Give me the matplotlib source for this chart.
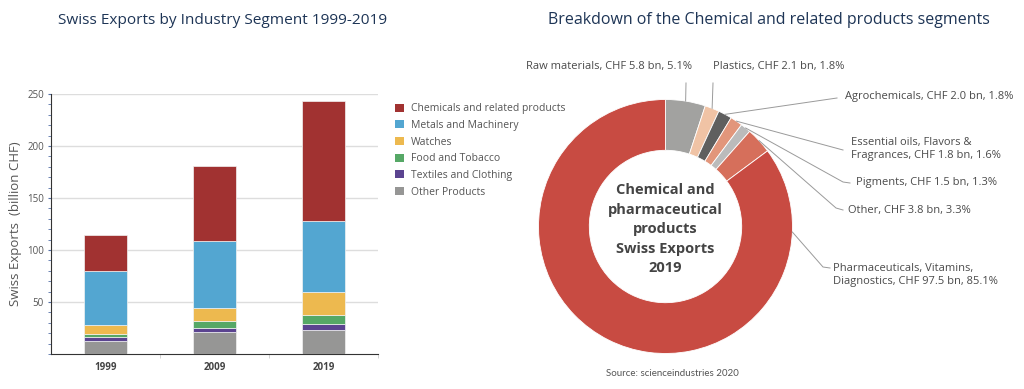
import matplotlib
matplotlib.use("Agg")
import matplotlib.pyplot as plt
import numpy as np
from matplotlib.patches import Patch

# ---------------- data ----------------
years = ["1999", "2009", "2019"]
segments = ["Other Products", "Textiles and Clothing", "Food and Tobacco",
            "Watches", "Metals and Machinery", "Chemicals and related products"]
other_products = [12.5, 20.8, 23.4]
textiles = [3.8, 3.9, 5.1]
food = [2.9, 7.0, 9.0]
watches = [8.7, 12.9, 21.8]
metals = [52.2, 63.7, 68.3]
chemicals = [34.3, 72.5, 115.3]
bar_series = [other_products, textiles, food, watches, metals, chemicals]
bar_colors = ["#969695", "#5B4490", "#56A866", "#EDB94F", "#53A6D1", "#A13231"]

chem_names = ["Raw materials", "Plastics", "Agrochemicals",
              "Essential oils, Flavors &\nFragrances", "Pigments", "Other",
              "Pharmaceuticals, Vitamins,\nDiagnostics"]
chem_values = [5.8, 2.1, 2.0, 1.8, 1.5, 3.8, 97.5]
chem_pcts = ["5.1%", "1.8%", "1.8%", "1.6%", "1.3%", "3.3%", "85.1%"]
chem_colors = ["#A2A2A0", "#F0C3A5", "#5F5F5F", "#E2967B", "#BBBBBB", "#D66F5B", "#C84B42"]

W, H = 1024, 389
fig = plt.figure(figsize=(W / 100, H / 100), dpi=100)
plt.rcParams['font.family'] = ['Open Sans', 'DejaVu Sans']

def fx(x):
    return x / W

def fy(y):
    return 1 - y / H

TXT = "#4A4A4A"
NAVY = "#1E3556"

# ---------------- bar chart ----------------
ax = fig.add_axes([fx(51), fy(354), fx(378) - fx(51), fy(94) - fy(354)])
x = np.arange(len(years))
bottom = np.zeros(len(years))
for vals, col, name in zip(bar_series, bar_colors, segments):
    ax.bar(x, vals, width=0.4, bottom=bottom, color=col, edgecolor="#f2f2f2",
           linewidth=0.5, label=name, zorder=3)
    bottom += np.array(vals)

ax.set_xlim(-0.5, 2.5)
ax.set_ylim(0, 250)
ax.set_yticks([50, 100, 150, 200, 250])
ax.set_yticks(np.arange(0, 251, 10), minor=True)
ax.yaxis.grid(True, color="#DDDDDD", linewidth=1, zorder=0)
ax.set_axisbelow(True)
ax.tick_params(axis='y', which='both', direction='out', length=2, color="#5570A8",
               labelsize=7, labelcolor="#555555", pad=3)
ax.set_xticks(x)
ax.set_xticklabels(years, fontsize=7, fontweight='bold', color="#444444")
ax.tick_params(axis='x', which='major', length=0, pad=6)
ax.set_xticks([0.5, 1.5, 2.5], minor=True)
ax.tick_params(axis='x', which='minor', length=3, color="#CCCCCC")
for s in ["top", "right"]:
    ax.spines[s].set_visible(False)
ax.spines["left"].set_color("#333333")
ax.spines["bottom"].set_color("#333333")
ax.set_ylabel("Swiss Exports  (billion CHF)", fontsize=9.5, color="#555555", labelpad=4)

handles = [Patch(facecolor=c, edgecolor='none') for c in bar_colors][::-1]
labels = segments[::-1]
fig.legend(handles, labels, loc='upper left', bbox_to_anchor=(fx(391), fy(99)),
           frameon=False, fontsize=7.5, labelcolor="#555555", handlelength=0.8,
           handleheight=0.8, handletextpad=0.75, labelspacing=0.55, borderaxespad=0)

fig.text(fx(58), fy(20), "Swiss Exports by Industry Segment 1999-2019", fontsize=11.1,
         color=NAVY, va='center', ha='left')

# ---------------- donut ----------------
cx, cy, R = 665.5, 226.5, 127
pax = fig.add_axes([fx(cx - R), fy(cy + R), fx(2 * R), fy(cy - R) - fy(cy + R)])
wedges, _ = pax.pie(chem_values, colors=chem_colors, startangle=90, counterclock=False,
                    radius=1, wedgeprops=dict(width=0.4, edgecolor='white', linewidth=0.6))
pax.set_xlim(-1, 1)
pax.set_ylim(-1, 1)
pax.set_aspect('equal')
pax.axis('off')

pax.text(0, -0.02, "Chemical and\npharmaceutical\nproducts\nSwiss Exports\n2019", ha='center',
         va='center', fontsize=10.5, fontweight='bold', color="#444444", linespacing=1.5)

fig.text(fx(548), fy(20), "Breakdown of the Chemical and related products segments",
         fontsize=11.5, color=NAVY, va='center', ha='left')

# label layout: (text x, text y, ha, line path in pixels after anchor)
label_layout = [
    (692, 66, 'right', [(686, 83)]),
    (713, 66, 'left', [(713, 83)]),
    (845, 97, 'left', [(837, 98)]),
    (851, 149, 'left', [(843, 150)]),
    (856, 183, 'left', [(843, 182), (850, 183)]),
    (848, 211, 'left', [(836, 208), (843, 210)]),
    (833, 275, 'left', [(823, 267), (830, 268)]),
]

LINE = "#9A9A9A"
for i, (w, name, val, pct) in enumerate(zip(wedges, chem_names, chem_values, chem_pcts)):
    tx, ty, ha, path = label_layout[i]
    if i == len(wedges) - 1:
        ang = np.deg2rad(-2.5)
    else:
        ang = np.deg2rad((w.theta1 + w.theta2) / 2)
    ax_x, ax_y = np.cos(ang), np.sin(ang)
    disp = pax.transData.transform((ax_x, ax_y))
    px0 = disp[0]
    py0 = H - disp[1]
    pts = [(px0, py0)] + path
    xs = [fx(p[0]) for p in pts]
    ys = [fy(p[1]) for p in pts]
    fig.add_artist(plt.Line2D(xs, ys, transform=fig.transFigure, color=LINE, linewidth=0.7))
    if "\n" in name:
        a, b = name.split("\n")
        txt = f"{a}\n{b}, CHF {val} bn, {pct}"
    else:
        txt = f"{name}, CHF {val} bn, {pct}"
    fig.text(fx(tx), fy(ty), txt, ha=ha, va='center', fontsize=8, color=TXT, linespacing=1.3)

fig.text(fx(672), fy(373), "Source: scienceindustries 2020", ha='center', va='center',
         fontsize=7, color="#555555", family=['Lato', 'DejaVu Sans'])

fig.savefig("out.png", dpi=100, facecolor='white')
